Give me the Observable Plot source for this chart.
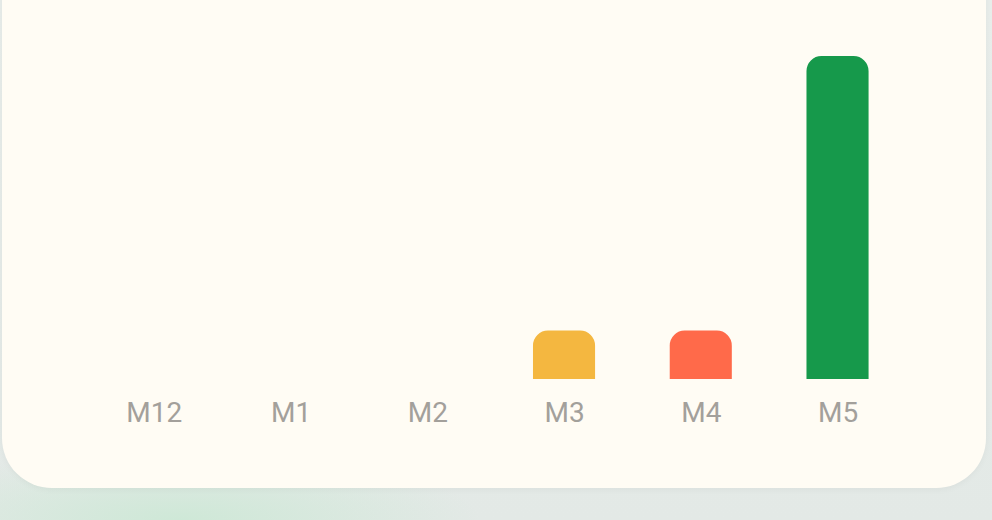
<!DOCTYPE html>
<html>
<head>
<meta charset="utf-8">
<script src="https://cdn.jsdelivr.net/npm/d3@7"></script>
<script src="https://cdn.jsdelivr.net/npm/@observablehq/plot@0.6"></script>
<style>
  html, body { margin: 0; padding: 0; }
  body {
    width: 992px; height: 520px; overflow: hidden; position: relative;
    background:
      radial-gradient(ellipse 300px 70px at 180px 520px, rgba(205,232,214,0.95), rgba(205,232,214,0) 100%),
      linear-gradient(#E8EDEA, #E3E9E6);
    font-family: Roboto, "Noto Sans", sans-serif;
  }
  #card {
    position: absolute; left: 2px; top: -60px; width: 984px; height: 548px;
    background: #FFFCF4; border-radius: 50px;
    box-shadow: 0 2px 6px rgba(0,0,0,0.04);
  }
  #chart { position: absolute; left: 0; top: 0; }
</style>
</head>
<body>
<div id="card"></div>
<div id="chart"></div>
<script>
const months = ["M12", "M1", "M2", "M3", "M4", "M5"];
const values = [0, 0, 0, 3, 3, 20];
const colors = ["#F4B740", "#F4B740", "#F4B740", "#F4B740", "#FF6A4A", "#16994B"];

const data = months.map((m, i) => ({month: m, value: values[i], color: colors[i]}));

const chart = Plot.plot({
  width: 992,
  height: 520,
  marginTop: 56,
  marginBottom: 141,
  marginLeft: 0,
  marginRight: 0,
  style: {background: "transparent", fontFamily: "Roboto, sans-serif", overflow: "visible"},
  x: {
    type: "band",
    domain: months,
    range: [85.4, 905.9],
    round: false,
    paddingInner: 0.546,
    paddingOuter: 0.273,
    label: null
  },
  y: {domain: [0, 20], axis: null},
  marks: [
    Plot.barY(data.filter(d => d.value > 0), {x: "month", y: "value", fill: "color", ry1: 15}),
    Plot.axisX({
      tickSize: 0,
      tickPadding: 23,
      fontSize: 28,
      fill: "#A3A09B",
      label: null
    })
  ]
});
document.getElementById("chart").appendChild(chart);
</script>
</body>
</html>
